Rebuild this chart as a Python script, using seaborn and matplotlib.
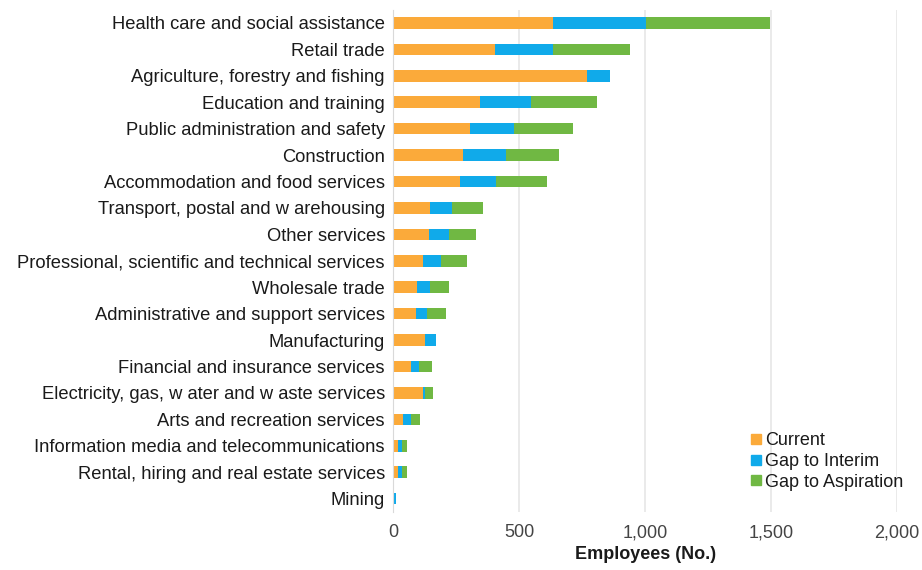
import pandas as pd
import seaborn as sns
import matplotlib.pyplot as plt
from matplotlib.lines import Line2D

# values (employees)
industries = [
    "Health care and social assistance",
    "Retail trade",
    "Agriculture, forestry and fishing",
    "Education and training",
    "Public administration and safety",
    "Construction",
    "Accommodation and food services",
    "Transport, postal and w arehousing",
    "Other services",
    "Professional, scientific and technical services",
    "Wholesale trade",
    "Administrative and support services",
    "Manufacturing",
    "Financial and insurance services",
    "Electricity, gas, w ater and w aste services",
    "Arts and recreation services",
    "Information media and telecommunications",
    "Rental, hiring and real estate services",
    "Mining",
]
current = [634, 405, 768, 345, 304, 276, 264, 145, 141, 120, 95, 89, 128, 69, 119, 40, 20, 20, 2]
gap_interim = [370, 229, 93, 200, 174, 172, 145, 90, 81, 68, 52, 46, 40, 34, 7, 29, 16, 16, 8]
gap_aspiration = [490, 307, 0, 264, 236, 211, 202, 123, 108, 103, 75, 74, 0, 52, 30, 39, 17, 17, 0]

xticks = [0, 500, 1000, 1500, 2000]
xtick_labels = ["0", "500", "1,000", "1,500", "2,000"]

c_current = "#FBAA3A"
c_interim = "#10AAEA"
c_aspiration = "#70B843"

df = pd.DataFrame({
    "Industry": industries,
    "Current": current,
    "Interim": gap_interim,
    "Aspiration": gap_aspiration,
})
df["to_interim"] = df["Current"] + df["Interim"]
df["to_aspiration"] = df["to_interim"] + df["Aspiration"]

sns.set_style("white")
plt.rcParams["font.family"] = ["Liberation Sans", "DejaVu Sans"]

fig = plt.figure(figsize=(9.22, 5.70), dpi=100)
ax = fig.add_axes([0.4265, 0.102, 0.5465, 0.881])

# stacked bars: draw the cumulative totals back to front
for col, c in [("to_aspiration", c_aspiration), ("to_interim", c_interim), ("Current", c_current)]:
    sns.barplot(data=df, x=col, y="Industry", orient="h", color=c,
                width=0.44, saturation=1, linewidth=0, ax=ax)

ax.set_xlim(0, 2000)
ax.set_ylim(len(industries) - 0.5, -0.5)
ax.set_xticks(xticks)
ax.set_xticklabels(xtick_labels)
ax.grid(axis="x", color="#E6E6E6", linewidth=1.2)
ax.set_axisbelow(True)

for s in ["top", "right", "bottom"]:
    ax.spines[s].set_visible(False)
ax.spines["left"].set_color("#D9D9D9")
ax.tick_params(axis="both", length=0)
ax.tick_params(axis="y", pad=6, labelsize=13.2, labelcolor="#1a1a1a")
ax.tick_params(axis="x", pad=9, labelsize=13, labelcolor="#444444")

ax.set_ylabel("")
ax.set_xlabel("Employees (No.)", fontsize=13, fontweight="bold", color="#1a1a1a", labelpad=3)

handles = [
    Line2D([], [], marker="s", linestyle="", markersize=6.5, color=c_current),
    Line2D([], [], marker="s", linestyle="", markersize=6.5, color=c_interim),
    Line2D([], [], marker="s", linestyle="", markersize=6.5, color=c_aspiration),
]
leg = ax.legend(handles, ["Current", "Gap to Interim", "Gap to Aspiration"],
                loc="lower right", bbox_to_anchor=(1.045, 0.01), frameon=False,
                fontsize=13, handletextpad=0.1, labelspacing=0.2, handlelength=0.8)
for t in leg.get_texts():
    t.set_color("#1a1a1a")

fig.savefig("out.png", dpi=100)
